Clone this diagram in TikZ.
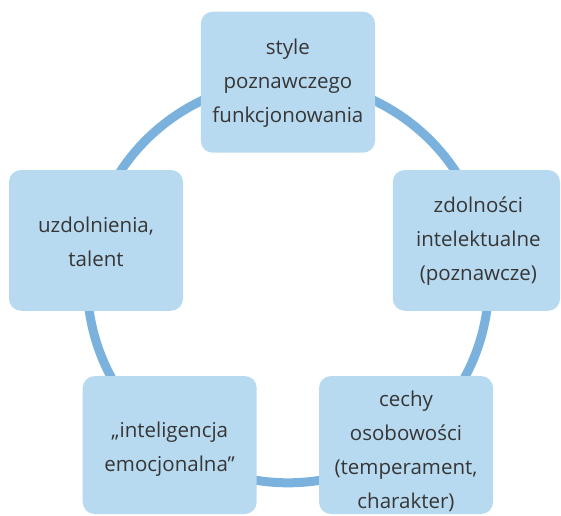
\documentclass[tikz,border=0pt]{standalone}
\usepackage{fontspec}
\setmainfont{Open Sans}
\definecolor{ringblue}{HTML}{7BB1DD}
\definecolor{boxblue}{HTML}{B8DAF0}
\definecolor{ink}{HTML}{363636}
\begin{document}
\begin{tikzpicture}[x=1pt,y=-1pt,
  card/.style={fill=boxblue, draw=none, rounded corners=12pt, inner sep=0pt},
  caption/.style={align=center, text=ink, inner sep=0pt,
    font=\fontsize{20.5}{34}\selectfont}]
\useasboundingbox (0,0) rectangle (561,515);
% the ring linking the five areas
\coordinate (hub) at (288,282);
\draw[ringblue, line width=9pt] (hub) circle[radius=200.8pt];
% the five areas, laid on top of the ring
\node[card, minimum width=174.3pt, minimum height=141pt] (style) at (287.9,82.2) {};
\node[card, minimum width=167.3pt, minimum height=140.7pt] (zdolnosci) at (476.4,240.4) {};
\node[card, minimum width=174pt, minimum height=140.7pt] (uzdolnienia) at (96,240.4) {};
\node[card, minimum width=174pt, minimum height=138pt] (emocje) at (169.7,445) {};
\node[card, minimum width=174pt, minimum height=138pt] (cechy) at (406,445) {};
% their labels
\node[caption] (style-t) at ([yshift=-1pt]style.center) {style\\poznawczego\\funkcjonowania};
\node[caption] (zdolnosci-t) at ([xshift=2pt,yshift=-1pt]zdolnosci.center) {zdolności\\intelektualne\\(poznawcze)};
\node[caption] (uzdolnienia-t) at ([yshift=-1pt]uzdolnienia.center) {uzdolnienia,\\talent};
\node[caption] (emocje-t) at ([yshift=-4pt]emocje.center) {„inteligencja\\emocjonalna”};
\node[caption] (cechy-t) at ([yshift=-6pt]cechy.center) {cechy\\osobowości\\(temperament,\\charakter)};
\end{tikzpicture}
\end{document}
